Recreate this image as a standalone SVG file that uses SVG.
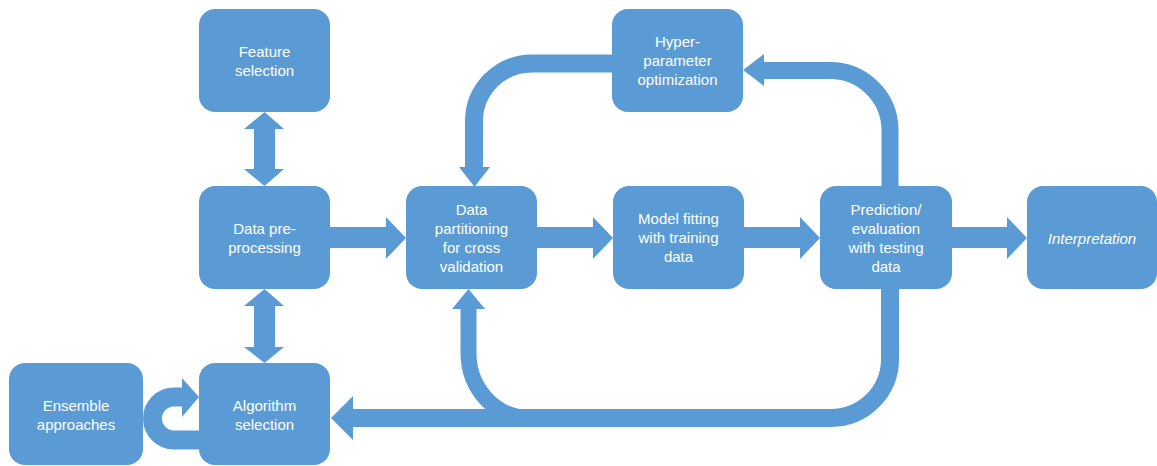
<svg xmlns="http://www.w3.org/2000/svg" width="1157" height="466" viewBox="0 0 1157 466">
<style>
.box{fill:#5B9BD5}
.t{fill:#FFFFFF;font-family:"Liberation Sans",Arial,sans-serif;font-size:15px;text-anchor:middle}
.arr{fill:#5B9BD5}
.ln{fill:none;stroke:#5B9BD5}
</style>
<rect width="1157" height="466" fill="#FFFFFF"/>
<g id="connectors">
<polygon class="arr" points="330,227 386,227 386,217 406,238 386,259 386,248 330,248"/>
<polygon class="arr" points="537,227 593,227 593,217 613,238 593,259 593,248 537,248"/>
<polygon class="arr" points="744,227 800,227 800,217 820,238 800,259 800,248 744,248"/>
<polygon class="arr" points="952,227 1007,227 1007,217 1027,238 1007,259 1007,248 952,248"/>
<polygon class="arr" points="264.5,112 284,129 275,129 275,169 284,169 264.5,186 244,169 254,169 254,129 244,129"/>
<polygon class="arr" points="264.5,289 284,306 275,306 275,347 284,347 264.5,363 244,347 254,347 254,306 244,306"/>
<path class="ln" stroke-width="17" d="M890 187 V130 A60 60 0 0 0 830 70.5 H764"/>
<polygon class="arr" points="764,54 743,70 764,86"/>
<path class="ln" stroke-width="18" d="M613 63.5 H532 A58 58 0 0 0 474 121.5 V168"/>
<polygon class="arr" points="459,167 490,167 474.5,187"/>
<path class="ln" stroke-width="18" d="M890 288 V359 A59 59 0 0 1 831 418 H352"/>
<polygon class="arr" points="353,396 331,418 353,440"/>
<path class="ln" stroke-width="16" d="M530 418 A61 65 0 0 1 468.5 353 V308"/>
<polygon class="arr" points="452,309 485,309 468.5,289"/>
<path class="ln" stroke-width="19" d="M200 440 H174 A21.5 21.5 0 0 1 174 397 H183"/>
<polygon class="arr" points="182,378 199,397 182,417"/>
</g>
<g id="feature-selection">
<rect class="box" x="199" y="9" width="131" height="103" rx="16"/>
<text class="t" x="264.5" y="57">Feature</text>
<text class="t" x="264.5" y="76">selection</text>
</g>
<g id="data-preprocessing">
<rect class="box" x="199" y="186" width="131" height="103" rx="16"/>
<text class="t" x="264.5" y="234">Data pre-</text>
<text class="t" x="264.5" y="253">processing</text>
</g>
<g id="algorithm-selection">
<rect class="box" x="199" y="363" width="131" height="102" rx="16"/>
<text class="t" x="264.5" y="411">Algorithm</text>
<text class="t" x="264.5" y="430">selection</text>
</g>
<g id="ensemble-approaches">
<rect class="box" x="9" y="363" width="134" height="102" rx="16"/>
<text class="t" x="76" y="411">Ensemble</text>
<text class="t" x="76" y="430">approaches</text>
</g>
<g id="data-partitioning">
<rect class="box" x="406" y="186" width="131" height="103" rx="16"/>
<text class="t" x="471.5" y="215">Data</text>
<text class="t" x="471.5" y="234">partitioning</text>
<text class="t" x="471.5" y="253">for cross</text>
<text class="t" x="471.5" y="272">validation</text>
</g>
<g id="model-fitting">
<rect class="box" x="613" y="186" width="131" height="103" rx="16"/>
<text class="t" x="678.5" y="224">Model fitting</text>
<text class="t" x="678.5" y="243">with training</text>
<text class="t" x="678.5" y="262">data</text>
</g>
<g id="prediction-evaluation">
<rect class="box" x="820" y="186" width="132" height="103" rx="16"/>
<text class="t" x="886" y="215">Prediction/</text>
<text class="t" x="886" y="234">evaluation</text>
<text class="t" x="886" y="253">with testing</text>
<text class="t" x="886" y="272">data</text>
</g>
<g id="interpretation">
<rect class="box" x="1027" y="186" width="130" height="103" rx="16"/>
<text class="t" x="1092" y="244" font-style="italic">Interpretation</text>
</g>
<g id="hyperparameter-optimization">
<rect class="box" x="612" y="9" width="131" height="103" rx="16"/>
<text class="t" x="677.5" y="47">Hyper-</text>
<text class="t" x="677.5" y="66">parameter</text>
<text class="t" x="677.5" y="85">optimization</text>
</g>
</svg>
